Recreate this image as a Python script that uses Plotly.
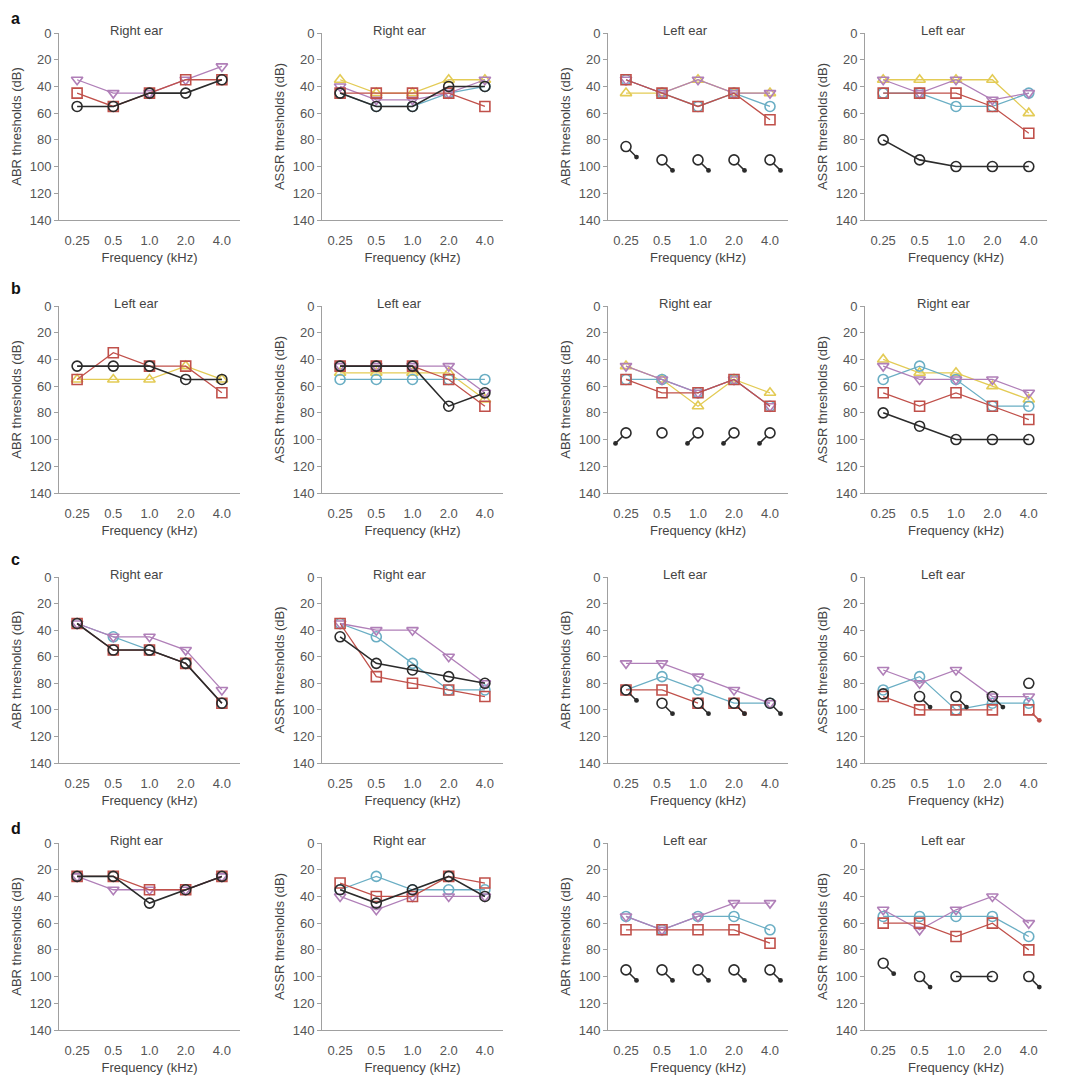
import plotly.graph_objects as go

FREQ_LABELS = ["0.25", "0.5", "1.0", "2.0", "4.0"]
FREQ_POS = list(range(len(FREQ_LABELS)))

# thresholds in dB, None = no point
# row a
A1 = {"purple": [35, 45, 45, 35, 25], "red": [45, 55, 45, 35, 35], "black": [55, 55, 45, 45, 35]}
A2 = {"yellow": [35, 45, 45, 35, 35], "cyan": [45, 55, 55, 45, 40], "purple": [40, 50, 50, 45, 35],
      "red": [45, 45, 45, 45, 55], "black": [45, 55, 55, 40, 40]}
A3 = {"yellow": [45, 45, 35, 45, 45], "cyan": [35, 45, 55, 45, 55], "purple": [35, 45, 35, 45, 45],
      "red": [35, 45, 55, 45, 65]}
A3_NR = {"black": [85, 95, 95, 95, 95]}
A4 = {"yellow": [35, 35, 35, 35, 60], "cyan": [45, 45, 55, 55, 45], "purple": [35, 45, 35, 50, 45],
      "red": [45, 45, 45, 55, 75], "black": [80, 95, 100, 100, 100]}
# row b
B1 = {"yellow": [55, 55, 55, 45, 55], "red": [55, 35, 45, 45, 65], "black": [45, 45, 45, 55, 55]}
B2 = {"yellow": [50, 50, 50, 50, 70], "cyan": [55, 55, 55, 55, 55], "purple": [45, 45, 45, 45, 65],
      "red": [45, 45, 45, 55, 75], "black": [45, 45, 45, 75, 65]}
B3 = {"yellow": [45, 55, 75, 55, 65], "cyan": [55, 55, 65, 55, 75], "purple": [45, 55, 65, 55, 75],
      "red": [55, 65, 65, 55, 75], "black": [None, 95, None, None, None]}
B3_NR = {"black": [95, None, 95, 95, 95]}
B4 = {"yellow": [40, 50, 50, 60, 70], "cyan": [55, 45, 55, 75, 75], "purple": [45, 55, 55, 55, 65],
      "red": [65, 75, 65, 75, 85], "black": [80, 90, 100, 100, 100]}
# row c
C1 = {"cyan": [35, 45, 55, 65, 95], "purple": [35, 45, 45, 55, 85], "red": [35, 55, 55, 65, 95],
      "black": [35, 55, 55, 65, 95]}
C2 = {"cyan": [35, 45, 65, 85, 85], "purple": [35, 40, 40, 60, 80], "red": [35, 75, 80, 85, 90],
      "black": [45, 65, 70, 75, 80]}
C3 = {"cyan": [85, 75, 85, 95, 95], "purple": [65, 65, 75, 85, 95], "red": [85, 85, 95, None, None]}
C3_NR = {"red": [None, None, None, 95, None], "black": [85, 95, 95, 95, 95]}
C4 = {"cyan": [85, 75, 100, 95, 95], "purple": [70, 80, 70, 90, 90], "red": [90, 100, 100, 100, None],
      "black": [88, None, None, None, 80]}
C4_NR = {"red": [None, None, None, None, 100], "black": [None, 90, 90, 90, None]}
# row d
D1 = {"purple": [25, 35, 35, 35, 25], "red": [25, 25, 35, 35, 25], "black": [25, 25, 45, 35, 25]}
D2 = {"cyan": [35, 25, 35, 35, 35], "purple": [40, 50, 40, 40, 40], "red": [30, 40, 40, 25, 30],
      "black": [35, 45, 35, 25, 40]}
D3 = {"cyan": [55, 65, 55, 55, 65], "purple": [55, 65, 55, 45, 45], "red": [65, 65, 65, 65, 75]}
D3_NR = {"black": [95, 95, 95, 95, 95]}
D4 = {"cyan": [55, 55, 55, 55, 70], "purple": [50, 65, 50, 40, 60], "red": [60, 60, 70, 60, 80],
      "black": [None, None, 100, 100, None]}
D4_NR = {"black": [90, 100, None, None, 100]}

STYLE = {
    "black": dict(color="#2b2b2b", symbol="circle-open", width=1.6),
    "red": dict(color="#c0504a", symbol="square-open", width=1.3),
    "cyan": dict(color="#6aaec4", symbol="circle-open", width=1.3),
    "yellow": dict(color="#e3cb55", symbol="triangle-up-open", width=1.3),
    "purple": dict(color="#b07fb8", symbol="triangle-down-open", width=1.3),
}

W, H = 1081, 1083
OFF = 8  # page body margin in the browser
XD = [(59, 240), (322, 503), (608, 788), (865, 1047)]
YD = [(33, 220), (306, 493), (577, 763), (843, 1030)]
FONT = "Liberation Sans"

# (row, col, title, y title, data, no-response data, arrow direction)
PANELS = [
    (0, 0, "Right ear", "ABR", A1, {}, 1),
    (0, 1, "Right ear", "ASSR", A2, {}, 1),
    (0, 2, "Left ear", "ABR", A3, A3_NR, 1),
    (0, 3, "Left ear", "ASSR", A4, {}, 1),
    (1, 0, "Left ear", "ABR", B1, {}, 1),
    (1, 1, "Left ear", "ASSR", B2, {}, 1),
    (1, 2, "Right ear", "ABR", B3, B3_NR, -1),
    (1, 3, "Right ear", "ASSR", B4, {}, 1),
    (2, 0, "Right ear", "ABR", C1, {}, 1),
    (2, 1, "Right ear", "ASSR", C2, {}, 1),
    (2, 2, "Left ear", "ABR", C3, C3_NR, 1),
    (2, 3, "Left ear", "ASSR", C4, C4_NR, 1),
    (3, 0, "Right ear", "ABR", D1, {}, 1),
    (3, 1, "Right ear", "ASSR", D2, {}, 1),
    (3, 2, "Left ear", "ABR", D3, D3_NR, 1),
    (3, 3, "Left ear", "ASSR", D4, D4_NR, 1),
]

fig = go.Figure()
annotations = []
layout_axes = {}

for n, (r, c, title, kind, data, nr, direction) in enumerate(PANELS, start=1):
    suffix = "" if n == 1 else str(n)
    xa, ya = f"x{suffix}", f"y{suffix}"
    for name in ["yellow", "cyan", "purple", "red", "black"]:
        if name in data:
            st = STYLE[name]
            fig.add_trace(go.Scatter(
                x=FREQ_POS, y=data[name], mode="lines+markers", xaxis=xa, yaxis=ya,
                line=dict(color=st["color"], width=st["width"]),
                marker=dict(symbol=st["symbol"], size=10, color=st["color"],
                            line=dict(color=st["color"], width=1.6)),
                cliponaxis=False, showlegend=False))
        if name in nr:
            st = STYLE[name]
            fig.add_trace(go.Scatter(
                x=FREQ_POS, y=nr[name], mode="markers", xaxis=xa, yaxis=ya,
                marker=dict(symbol=st["symbol"], size=10, color=st["color"],
                            line=dict(color=st["color"], width=1.6)),
                cliponaxis=False, showlegend=False))
            for i, v in zip(FREQ_POS, nr[name]):
                if v is None:
                    continue
                annotations.append(dict(
                    x=i, y=v, xref=xa, yref=ya, text="", showarrow=True,
                    ax=12 * direction, ay=12, arrowside="start", startarrowhead=6,
                    startarrowsize=0.8, arrowwidth=1.5, arrowcolor=st["color"], standoff=5))

    x0, x1 = XD[c]
    y0, y1 = YD[r]
    layout_axes[f"xaxis{suffix}"] = dict(
        domain=[(x0 - OFF) / W, (x1 - OFF) / W], anchor=ya, range=[-0.5, 4.5], automargin=False,
        tickmode="array", tickvals=FREQ_POS, ticktext=FREQ_LABELS, ticks="",
        ticklabelstandoff=8, showline=True, linecolor="#a0a0a0", linewidth=1,
        showgrid=False, zeroline=False,
        tickfont=dict(family=FONT, size=13, color="#555"),
        title=dict(text="Frequency (kHz)", standoff=6, font=dict(family=FONT, size=13, color="#444")))
    layout_axes[f"yaxis{suffix}"] = dict(
        domain=[1 - (y1 - OFF) / H, 1 - (y0 - OFF) / H], anchor=xa, range=[140, 0], automargin=False,
        tickvals=[0, 20, 40, 60, 80, 100, 120, 140], ticks="outside", ticklen=4,
        tickcolor="#a0a0a0", showline=True, linecolor="#a0a0a0", linewidth=1,
        showgrid=False, zeroline=False,
        tickfont=dict(family=FONT, size=13, color="#555"),
        title=dict(text=f"{kind} thresholds (dB)", standoff=5,
                   font=dict(family=FONT, size=13, color="#444")))
    annotations.append(dict(
        text=title, xref=f"{xa} domain", yref=f"{ya} domain", x=0.43, y=1.0,
        xanchor="center", yanchor="middle", yshift=3, showarrow=False,
        font=dict(family=FONT, size=13, color="#444")))

for letter, ypx in zip(["a", "b", "c", "d"], [18, 289, 559, 828]):
    annotations.append(dict(
        text=f"<b>{letter}</b>", xref="paper", yref="paper", x=(9 - OFF) / W, y=1 - (ypx - OFF) / H,
        xanchor="left", yanchor="middle", showarrow=False,
        font=dict(family=FONT, size=16, color="#111")))

fig.update_layout(
    width=W, height=H, margin=dict(l=0, r=0, t=0, b=0),
    paper_bgcolor="white", plot_bgcolor="white",
    annotations=annotations, **layout_axes)

fig.write_html("out.html")
